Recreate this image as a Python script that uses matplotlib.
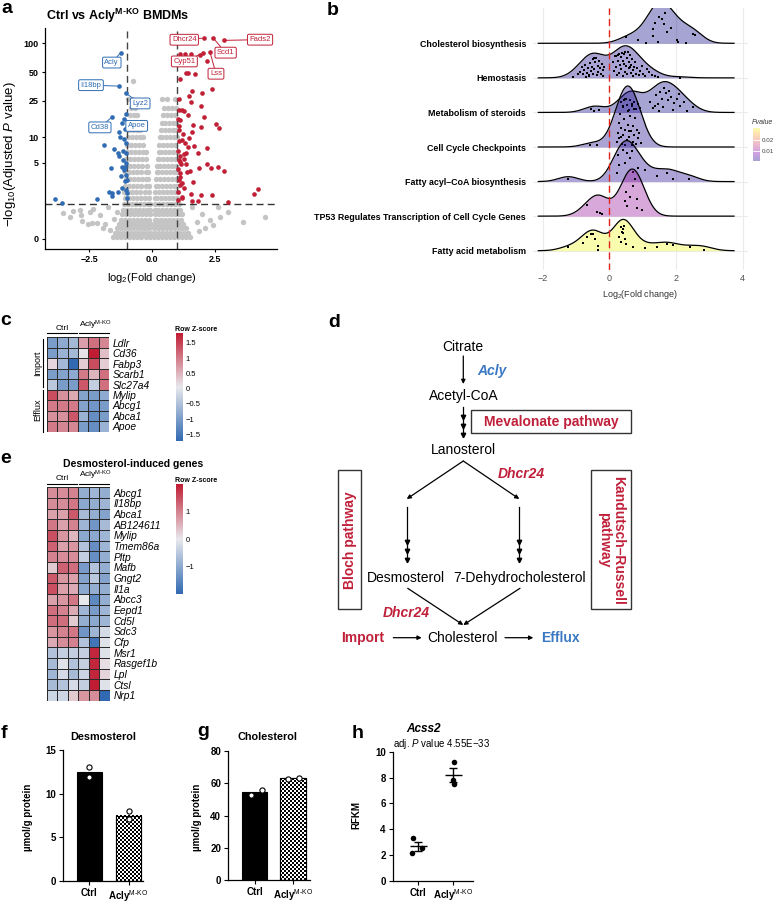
import numpy as np
import matplotlib
matplotlib.use('Agg')
import matplotlib.pyplot as plt
from matplotlib.colors import LinearSegmentedColormap, Normalize
from matplotlib.patches import Rectangle

plt.rcParams['font.family'] = ['Liberation Sans', 'DejaVu Sans']
plt.rcParams['mathtext.fontset'] = 'custom'
plt.rcParams['mathtext.rm'] = 'Liberation Sans'
plt.rcParams['mathtext.it'] = 'Liberation Sans:italic'
plt.rcParams['mathtext.bf'] = 'Liberation Sans:bold'

# ---------------- data: volcano (a) ----------------
blue_fc = [-1.24, -1.30, -1.03, -1.58, -1.10, -1.03, -1.20, -1.30, -1.27, -1.89, -1.51, -1.34,
           -1.30, -1.14, -1.64, -1.20, -1.10, -1.04, -1.24, -1.07, -1.20, -1.69, -1.60, -1.58,
           -1.36, -1.00, -2.19, -3.85, -3.58, -1.02, -1.05, -1.03, -1.08, -1.01, -1.04, -1.06,
           -1.12, -1.00, -1.15]
blue_p = [80, 35.7, 29.9, 16.8, 16.0, 18, 14.5, 11.5, 10.1, 8.1, 7.4, 6.6,
          6.05, 7.0, 4.3, 4.5, 4.1, 3.5, 3.4, 2.9, 2.3, 2.05, 1.93, 1.75,
          2.05, 1.93, 1.54, 1.56, 1.31, 5.0, 6.5, 8.5, 4.5, 3.0, 2.2, 12.5,
          9.5, 1.6, 5.5]
red_fc = [2.06, 2.43, 2.87, 2.01, 2.30, 1.11, 1.31, 1.53, 1.90, 2.19, 1.35, 1.44, 1.72, 1.11,
          2.37, 1.60, 1.47, 1.97, 1.07, 1.94, 1.54, 1.18, 1.27, 1.44, 2.06, 1.11, 2.54, 2.67,
          1.93, 1.61, 1.08, 1.57, 1.48, 1.18, 2.17, 1.68, 1.44, 1.84, 1.28, 1.11, 1.34, 2.19,
          2.63, 2.33, 1.88, 2.86, 1.51, 1.11, 1.64, 1.11, 1.27, 2.37, 1.93, 1.54, 1.18, 1.84,
          1.57, 3.00, 4.05, 4.22, 1.03, 1.05, 1.02, 1.06, 1.04, 1.08, 1.05, 1.03, 1.06, 1.02,
          1.10, 1.15, 1.12, 1.20, 1.25, 1.30, 1.22, 1.35, 1.40, 1.18]
red_p = [113, 113, 107, 79, 81, 77, 77, 78, 75, 65, 49.6, 49, 48, 42,
         33, 32, 28.2, 30, 26, 21.9, 24.3, 19.9, 19.5, 17.5, 16.8, 15.5, 14, 12.8,
         13.1, 13.6, 13.5, 11.5, 9.7, 9.3, 7.6, 8.0, 7.7, 6.5, 6.4, 5.2, 4.9, 4.9,
         4.5, 4.3, 4.3, 3.96, 4.0, 3.7, 2.86, 2.57, 2.3, 1.82, 1.82, 1.9, 1.6, 1.45,
         1.42, 1.41, 1.87, 2.24, 2.0, 3.0, 4.2, 5.5, 7.0, 9.0, 12, 16, 20, 1.5,
         6.0, 4.8, 3.3, 2.7, 5.6, 8.6, 11, 6.6, 3.9, 1.7]
gray_rows = [
    (0.05, [-1.55, -1.38, -1.22, -1.06, -0.90, -0.74, -0.58, -0.42, -0.26, -0.10, 0.06, 0.22, 0.38, 0.54, 0.70, 0.86, 1.02, 1.18, 1.34, 1.50]),
    (0.15, [-1.47, -1.31, -1.15, -0.99, -0.83, -0.67, -0.51, -0.35, -0.19, -0.03, 0.13, 0.29, 0.45, 0.61, 0.77, 0.93, 1.09, 1.25, 1.41]),
    (0.28, [-1.39, -1.23, -1.07, -0.91, -0.75, -0.59, -0.43, -0.27, -0.11, 0.08, 0.24, 0.40, 0.56, 0.72, 0.88, 1.04, 1.20, 1.36]),
    (0.42, [-1.31, -1.15, -0.99, -0.83, -0.67, -0.51, -0.35, -0.19, -0.06, 0.12, 0.28, 0.44, 0.60, 0.76, 0.92, 1.08, 1.24]),
    (0.58, [-1.25, -1.09, -0.93, -0.77, -0.61, -0.45, -0.29, -0.13, 0.10, 0.20, 0.36, 0.52, 0.68, 0.84, 1.00, 1.16]),
    (0.78, [-1.20, -1.04, -0.88, -0.72, -0.56, -0.40, -0.24, -0.10, 0.12, 0.27, 0.43, 0.59, 0.75, 0.91, 1.07, 1.20]),
    (1.0, [-1.16, -1.00, -0.84, -0.68, -0.52, -0.36, -0.20, -0.08, 0.10, 0.22, 0.38, 0.54, 0.70, 0.86, 1.02, 1.12]),
    (1.3, [-1.12, -0.96, -0.80, -0.64, -0.48, -0.32, -0.16, -0.08, 0.12, 0.28, 0.44, 0.60, 0.76, 0.92, 1.06]),
    (1.65, [-1.08, -0.92, -0.76, -0.60, -0.44, -0.28, -0.12, 0.10, 0.20, 0.36, 0.52, 0.68, 0.84, 1.00]),
    (2.05, [-1.10, -0.94, -0.78, -0.62, -0.46, -0.30, -0.14, 0.13, 0.28, 0.44, 0.60, 0.76, 0.92, 1.04]),
    (2.5, [-1.06, -0.90, -0.74, -0.58, -0.42, -0.26, -0.14, 0.15, 0.22, 0.38, 0.54, 0.70, 0.86, 1.00]),
    (3.1, [-1.04, -0.88, -0.72, -0.56, -0.40, -0.24, -0.15, 0.17, 0.30, 0.46, 0.62, 0.78, 0.94]),
    (3.8, [-1.06, -0.90, -0.74, -0.58, -0.42, -0.26, -0.16, 0.18, 0.24, 0.40, 0.56, 0.72, 0.88, 1.00]),
    (4.6, [-1.02, -0.86, -0.70, -0.54, -0.38, -0.22, 0.20, 0.32, 0.48, 0.64, 0.80, 0.96]),
    (5.6, [-1.04, -0.88, -0.72, -0.56, -0.40, -0.24, 0.22, 0.26, 0.42, 0.58, 0.74, 0.90, 1.00]),
    (6.8, [-1.00, -0.84, -0.68, -0.52, -0.36, -0.24, 0.26, 0.36, 0.52, 0.68, 0.84, 0.98]),
    (8.2, [-0.98, -0.82, -0.66, -0.50, -0.34, 0.28, 0.44, 0.60, 0.76, 0.92]),
    (10, [-0.96, -0.80, -0.64, -0.48, -0.36, 0.32, 0.40, 0.56, 0.72, 0.88, 0.98]),
    (12, [-0.92, -0.76, -0.60, -0.46, 0.36, 0.50, 0.66, 0.82, 0.96]),
    (14.5, [-0.94, -0.80, -0.66, -0.52, 0.40, 0.52, 0.68, 0.84, 0.96]),
    (17.5, [-0.88, -0.72, -0.60, 0.44, 0.60, 0.76, 0.92]),
    (21, [-0.84, -0.68, 0.48, 0.64, 0.80, 0.94]),
    (26, [-0.95, -0.80, 0.40, 0.60, 0.92]),
    (40, [-0.74]),
]
gray_out_fc = [-3.52, -3.25, -3.12, -2.86, -2.83, -2.46, -2.35, -2.79, -2.53, -2.39, -2.19, -1.87,
               -1.67, -1.34, -1.40, -2.05, -1.75, -1.95, -1.50, 2.63, 3.03, 2.70, 2.30, 2.43,
               1.97, 1.77, 4.48, 1.60, 2.10, 1.85, 3.60]
gray_out_p = [0.83, 0.67, 0.93, 0.98, 0.76, 0.90, 1.01, 0.54, 0.42, 0.44, 0.45, 0.42,
              0.24, 0.14, 0.90, 0.75, 1.10, 0.30, 0.60, 1.14, 0.90, 0.69, 0.56, 0.39,
              0.80, 0.50, 0.69, 1.10, 0.30, 0.20, 0.50]
lab_gene = ['Acly', 'Il18bp', 'Lyz2', 'Cd38', 'Apoe', 'Dhcr24', 'Cyp51', 'Scd1', 'Lss', 'Fads2']
lab_fc = [-1.24, -1.30, -1.03, -1.58, -1.10, 2.06, 2.01, 2.43, 2.30, 2.87]
lab_p = [80, 35.7, 29.9, 16.8, 16.0, 113, 79, 113, 81, 107]
lab_off = [(-6.5, -7.2), (-20.4, 0.7), (10.1, -7.2), (-8.9, -7.6), (8.9, -5.1),
           (-14.2, -1.2), (-13.2, -6.0), (8.9, -10.5), (4.3, -15.6), (25.7, 0.5)]

# ---------------- data: ridgeline (b) ----------------
ridge_names = ['Cholesterol biosynthesis', 'Hemostasis', 'Metabolism of steroids',
               'Cell Cycle Checkpoints', 'Fatty acyl\u2013CoA biosynthesis',
               'TP53 Regulates Transcription of Cell Cycle Genes', 'Fatty acid metabolism']
ridge_p = [0.00002, 0.0003, 0.0001, 0.0006, 0.0012, 0.0105, 0.032]
ridge_fc = [
    [0.50, 0.85, 1.10, 1.32, 1.37, 1.50, 1.57, 1.67, 1.72, 1.84, 1.47, 2.02, 2.05, 2.30, 2.52, 2.58, 1.32, 1.63],
    [-1.08, -0.95, -0.88, -0.82, -0.80, -0.75, -0.72, -0.68, -0.65, -0.62, -0.58, -0.55, -0.52, -0.50, -0.48,
     -0.45, -0.43, -0.40, -0.38, -0.35, -0.33, -0.30, -0.28, -0.25, -0.22, -0.20, -0.18, -0.15, -0.45, -0.60, -0.70,
     0.12, 0.15, 0.18, 0.20, 0.22, 0.25, 0.27, 0.30, 0.32, 0.34, 0.36, 0.38, 0.40, 0.42, 0.44, 0.46, 0.48, 0.50,
     0.52, 0.54, 0.56, 0.58, 0.60, 0.62, 0.64, 0.66, 0.68, 0.70, 0.72, 0.75, 0.78, 0.80, 0.84, 0.88, 0.92, 0.98,
     1.02, 1.08, 1.12, 1.20, 1.28, 1.38, 1.45, 2.12, 0.20, 0.30, 0.45, 0.62],
    [-0.55, -0.45, -0.30, 0.35, 0.42, 0.48, 0.53, 0.58, 0.62, 0.68, 0.74, 0.80, 0.86, 0.93,
     1.22, 1.30, 1.36, 1.40, 1.45, 1.50, 1.52, 1.57, 1.62, 1.65, 1.70, 1.75, 1.80, 1.84, 1.90, 1.95,
     2.02, 2.08, 2.12, 2.25, 2.32, 2.50],
    [-0.58, -0.38, 0.22, 0.25, 0.28, 0.30, 0.33, 0.35, 0.38, 0.40, 0.42, 0.45, 0.47, 0.50, 0.52, 0.55,
     0.57, 0.60, 0.62, 0.64, 0.67, 0.70, 0.72, 0.75, 0.78, 0.80, 0.83, 0.86, 0.90, 0.95, 0.48, 0.36,
     0.58, 0.68, 0.44, 0.73],
    [-1.23, 0.27, 0.30, 0.47, 0.54, 0.62, 0.72, 0.85, 1.07, 1.42, 1.72, 1.92, 2.40, 0.42, 0.22, 0.67],
    [-0.68, -0.38, -0.28, -0.23, 0.47, 0.52, 0.72, 0.77, 0.82, 0.84, 0.97, 0.62, 0.50],
    [-1.23, -0.78, -0.68, -0.55, -0.50, -0.42, -0.35, -0.33, 0.30, 0.34, 0.37, 0.40, 0.42, 0.45, 0.47,
     0.50, 0.35, 0.72, 1.07, 1.44, 1.72, 1.92, 2.42, 2.84],
]
ridge_jit = [
    [0.29, 0.10, 0.02, 0.40, 0.60, 0.75, 0.69, 0.89, 0.34, 0.45, 0.04, 0.10, 0.04, 0.02, 0.26, 0.23, 0.21, 0.55],
    [0.02, 0.12, 0.16, 0.30, 0.10, 0.22, 0.38, 0.15, 0.28, 0.05, 0.42, 0.20, 0.32, 0.55, 0.12,
     0.25, 0.45, 0.60, 0.08, 0.35, 0.18, 0.50, 0.28, 0.10, 0.40, 0.22, 0.05, 0.32, 0.70, 0.08, 0.02,
     0.45, 0.20, 0.62, 0.30, 0.08, 0.50, 0.72, 0.15, 0.38, 0.60, 0.25, 0.85, 0.05, 0.48, 0.70, 0.18, 0.95, 0.35,
     0.58, 0.10, 0.80, 0.28, 0.45, 0.65, 0.15, 0.38, 0.55, 0.22, 0.05, 0.30, 0.45, 0.12, 0.28, 0.08, 0.20, 0.35,
     0.12, 0.05, 0.25, 0.18, 0.08, 0.05, 0.02, 0.01, 0.75, 0.90, 0.40, 0.30],
    [0.10, 0.05, 0.08, 0.30, 0.15, 0.40, 0.22, 0.08, 0.35, 0.20, 0.30, 0.10, 0.25, 0.12,
     0.30, 0.12, 0.20, 0.50, 0.25, 0.05, 0.60, 0.40, 0.15, 0.72, 0.55, 0.35, 0.62, 0.45, 0.08, 0.28,
     0.40, 0.52, 0.20, 0.30, 0.05, 0.15],
    [0.07, 0.05, 0.15, 0.40, 0.70, 0.25, 0.95, 0.55, 0.10, 1.20, 0.35, 0.80, 0.50, 1.40, 0.20, 0.65,
     1.05, 0.30, 0.90, 0.45, 1.25, 0.15, 0.60, 0.35, 0.85, 0.08, 0.50, 0.25, 0.40, 0.12, 0.05, 0.30,
     0.45, 0.05, 1.50, 1.10],
    [0.06, 0.78, 0.49, 0.54, 0.83, 0.68, 0.27, 0.40, 0.33, 0.15, 0.25, 0.08, 0.08, 1.02, 0.25, 0.97],
    [0.39, 0.12, 0.10, 0.05, 0.43, 0.29, 0.87, 1.06, 0.50, 0.24, 0.19, 0.56, 0.69],
    [0.12, 0.21, 0.39, 0.50, 0.60, 0.33, 0.15, 0.02, 0.40, 0.70, 0.55, 0.50, 0.62, 0.80, 0.33,
     0.20, 0.26, 0.12, 0.07, 0.12, 0.18, 0.16, 0.10, 0.02],
]

# ---------------- data: heatmaps (c, e) ----------------
c_genes = ['Ldlr', 'Cd36', 'Fabp3', 'Scarb1', 'Slc27a4', 'Mylip', 'Abcg1', 'Abca1', 'Apoe']
c_z = [[-1.0, -0.8, -0.6, 0.7, 1.1, 0.9],
       [-1.0, -0.7, -0.6, 0.1, 1.82, 0.4],
       [0.2, -0.6, -1.71, 0.3, 1.4, 0.3],
       [-1.0, -0.9, -0.8, 1.0, 0.5, 1.1],
       [-0.4, -1.0, -1.0, 1.3, -0.3, 1.1],
       [1.4, 0.8, 0.6, -0.9, -1.0, -0.8],
       [1.0, 1.0, 1.0, -0.9, -1.1, -1.0],
       [0.8, 0.8, 1.3, -0.7, -1.2, -1.0],
       [1.0, 0.9, 0.9, -1.0, -1.2, -0.7]]
e_genes = ['Abcg1', 'Il18bp', 'Abca1', 'AB124611', 'Mylip', 'Tmem86a', 'Pltp', 'Mafb', 'Gngt2', 'Il1a',
           'Abcc3', 'Eepd1', 'Cd5l', 'Sdc3', 'Cfp', 'Msr1', 'Rasgef1b', 'Lpl', 'Ctsl', 'Nrp1']
e_z = [[0.9, 0.9, 1.0, -0.9, -0.8, -0.9],
       [0.9, 0.9, 1.1, -1.0, -0.9, -0.8],
       [0.7, 0.7, 1.4, -0.7, -0.9, -1.1],
       [1.1, 0.7, 1.0, -0.8, -1.3, -0.7],
       [1.5, 0.8, 0.5, -1.0, -1.0, -0.8],
       [1.3, 0.7, 0.8, -0.6, -1.4, -0.8],
       [1.0, 0.9, 0.9, -0.4, -1.4, -0.9],
       [0.3, 1.3, 1.2, -1.2, -0.6, -0.9],
       [1.4, 0.8, 0.7, -1.1, -0.5, -1.1],
       [1.5, 0.7, 0.6, -1.0, -0.9, -0.9],
       [0.7, 0.8, 1.1, 0.0, -1.5, -0.9],
       [1.2, 1.0, 0.6, -0.8, -1.2, -0.8],
       [1.2, 1.2, 0.3, -0.9, -1.0, -0.8],
       [0.8, 1.0, 1.1, -1.3, -0.8, -0.2],
       [0.6, 0.9, 1.0, -0.6, -1.8, -0.1],
       [-0.6, -0.4, -0.4, -0.4, 1.9, -0.1],
       [-0.7, -0.1, -0.6, -0.4, 1.9, 0.1],
       [-0.8, -0.2, -0.7, -0.3, 1.9, 0.2],
       [-0.7, -0.6, -0.2, -0.4, 2.0, -0.1],
       [-0.3, -0.3, 0.3, 0.8, 0.9, -1.99]]

# ---------------- data: f, g, h ----------------
HY = '\u2010'
groups = ['Ctrl', 'Acly$^{\\mathrm{M' + HY + 'KO}}$']
desmo_pts = [[13.0, 11.9], [8.0, 7.1]]
desmo_bar = [12.5, 7.5]
chol_pts = [[53.0, 56.0], [62.5, 63.5]]
chol_bar = [54.5, 63.0]
acss2_pts = [[3.29, 2.17, 2.51], [9.22, 7.80, 7.50]]
# horizontal placement of the dots within each group
desmo_jx = [[0.0, 0.0], [0.0, 0.0]]
chol_jx = [[-0.10, 0.19], [-0.13, 0.16]]
acss2_jx = [[-0.14, -0.17, 0.11], [0.03, 0.0, 0.03]]

W, H = 778, 905
fig = plt.figure(figsize=(W / 100, H / 100), dpi=100)


def box(l, t, r, b):
    return [l / W, 1 - b / H, (r - l) / W, (b - t) / H]


ov = fig.add_axes([0, 0, 1, 1])
ov.set_xlim(0, W)
ov.set_ylim(H, 0)
ov.axis('off')
ov.set_zorder(20)

# panel letters
for s, x, y in [('a', 1, 13), ('b', 327, 15), ('c', 0, 325), ('d', 328, 327), ('e', 0, 463),
                ('f', 1, 738), ('g', 197, 736), ('h', 352, 738)]:
    ov.text(x, y, s, fontsize=14, fontweight='bold', va='baseline')

# ================= a: volcano =================
def tr(v):
    return np.log10(np.asarray(v, dtype=float) + 1)


gray_fc = np.concatenate([r[1] for r in gray_rows] + [gray_out_fc])
gray_p = np.concatenate([[r[0]] * len(r[1]) for r in gray_rows] + [gray_out_p])

axa = fig.add_axes(box(45, 28, 277, 249))
axa.scatter(gray_fc, tr(gray_p), s=15, c='#c4c4c4', lw=0, zorder=1)
axa.scatter(blue_fc, tr(blue_p), s=11, c='#2f6cb3', lw=0, zorder=3)
axa.scatter(red_fc, tr(red_p), s=11, c='#c01f36', lw=0, zorder=3)
thr = -np.log10(0.05)
for xv in (-1, 1):
    axa.axvline(xv, color='#444444', lw=1.0, ls=(0, (5, 3)), zorder=2)
axa.axhline(tr(thr), color='#333333', lw=1.0, ls=(0, (5, 3)), zorder=2)
for g, fc, p, off in zip(lab_gene, lab_fc, lab_p, lab_off):
    col = '#2f6cb3' if fc < 0 else '#c01f36'
    axa.annotate(g, xy=(fc, tr(p)), xytext=off, textcoords='offset points', fontsize=5.5,
                 color=col, ha='center', va='center', zorder=5,
                 bbox=dict(boxstyle='round,pad=0.25,rounding_size=0.2', fc='white', ec=col, lw=0.7),
                 arrowprops=dict(arrowstyle='-', color=col, lw=0.7, shrinkA=0, shrinkB=1.5))
axa.set_xlim(-4.25, 4.96)
axa.set_ylim(-0.103, 2.16)
axa.set_xticks([-2.5, 0, 2.5])
axa.set_xticklabels(['\u22122.5', '0.0', '2.5'])
yt = [0, 5, 10, 25, 50, 100]
axa.set_yticks(tr(yt))
axa.set_yticklabels([str(v) for v in yt])
for lab in axa.get_xticklabels() + axa.get_yticklabels():
    lab.set_fontweight('bold')
axa.tick_params(labelsize=6.5, length=2.5, width=0.8, pad=2)
for s in ('top', 'right'):
    axa.spines[s].set_visible(False)
for s in ('left', 'bottom'):
    axa.spines[s].set_linewidth(0.9)
ov.text(118, 16, 'Ctrl vs Acly$^{\\mathbf{M' + HY + 'KO}}$ BMDMs', fontsize=9, fontweight='bold',
        ha='center', va='center')
ov.text(152, 278, r'log$_2$(Fold change)', fontsize=8, ha='center', va='center')
ov.text(10, 154, r'$-$log$_{10}$(Adjusted $P$ value)', fontsize=9.5, ha='center', va='center', rotation=90)

# ================= b: ridgeline =================
axb = fig.add_axes(box(533, 8, 748, 270))
bw = 0.3
allx = np.concatenate([np.asarray(x) for x in ridge_fc])
grid = np.linspace(allx.min() - 3 * bw, allx.max() + 3 * bw, 500)
dens = []
for x in ridge_fc:
    x = np.asarray(x)
    d = np.exp(-0.5 * ((grid[:, None] - x[None, :]) / bw) ** 2).sum(1) / (len(x) * bw * np.sqrt(2 * np.pi))
    dens.append(d)
hscale = 1.765 / max(d.max() for d in dens)
pcm = plt.get_cmap('plasma')
pn = Normalize(min(ridge_p), max(ridge_p))
n = len(ridge_names)
for i in range(n):
    base = n - i
    h = dens[i] * hscale
    z = 2 + i
    axb.fill_between(grid, base, base + h, color=pcm(pn(ridge_p[i])), alpha=0.37, lw=0, zorder=z)
    axb.plot(grid, base + h, color='black', lw=0.9, zorder=z)
    xs = np.asarray(ridge_fc[i])
    loc = np.interp(xs, grid, h)
    ys = base + np.minimum(np.asarray(ridge_jit[i]), 0.8 * loc)
    axb.scatter(xs, ys, s=3.5, c='black', marker='s', lw=0, zorder=z)
axb.axvline(0, color='#e3241b', lw=1.0, ls=(0, (5, 3)), zorder=30)
axb.set_xlim(-2.29, 4.16)
axb.set_ylim(0.442, 8.021)
axb.set_yticks(range(n, 0, -1))
axb.set_yticklabels(ridge_names, fontsize=6.4, fontweight='bold')
axb.set_xticks([-2, 0, 2, 4])
axb.set_xticklabels(['\u22122', '0', '2', '4'])
axb.tick_params(length=0, pad=5)
axb.tick_params(axis='x', labelsize=6.5, labelcolor='#4d4d4d', pad=3)
axb.grid(True, color='#ebebeb', lw=0.8, zorder=0)
axb.set_axisbelow(True)
for s in axb.spines.values():
    s.set_visible(False)
ov.text(640, 294, r'Log$_2$(Fold change)', fontsize=6.5, color='#333333', ha='center', va='center')

cb = fig.add_axes(box(753, 128, 760, 161))
cb.imshow(np.linspace(0, 1, 100)[:, None], aspect='auto', cmap='plasma', alpha=0.37,
          origin='lower', extent=[0, 1, min(ridge_p), max(ridge_p)])
cb.set_xticks([])
cb.yaxis.tick_right()
cb.set_yticks([0.01, 0.02])
cb.set_yticklabels(['0.01', '0.02'])
cb.tick_params(axis='y', labelsize=4.5, length=0, pad=1.5, labelcolor='#444444')
for v in (0.01, 0.02):
    cb.axhline(v, color='white', lw=0.6)
for s in cb.spines.values():
    s.set_visible(False)
ov.text(752, 123, 'Pvalue', fontsize=5, style='italic', color='#333333', va='center')

# ================= c, e: heatmaps =================
hcm = LinearSegmentedColormap.from_list('rb', ['#3169b2', '#e8e8ec', '#c01c33'])


def heat(rect, Z, genes, cbrect, ticks):
    ax = fig.add_axes(rect)
    Z = np.asarray(Z)
    vmin, vmax = Z.min(), Z.max()
    im = ax.pcolormesh(Z, cmap=hcm, vmin=vmin, vmax=vmax, edgecolors='#2a2a2a', linewidth=0.5)
    ax.set_xlim(0, Z.shape[1])
    ax.set_ylim(Z.shape[0], 0)
    ax.set_xticks([])
    ax.yaxis.tick_right()
    ax.set_yticks(np.arange(Z.shape[0]) + 0.5)
    ax.set_yticklabels(genes, fontsize=7.4, style='italic')
    ax.tick_params(length=0, pad=2.5)
    for s in ax.spines.values():
        s.set_visible(False)
    cax = fig.add_axes(cbrect)
    c = fig.colorbar(im, cax=cax, ticks=ticks)
    c.outline.set_visible(False)
    c.ax.tick_params(labelsize=5.5, length=0, pad=2)
    c.ax.set_yticklabels([('%g' % t).replace('-', '\u2212') for t in ticks])
    return ax


heat(box(46.7, 337.3, 109.3, 431.7), c_z, c_genes, box(175.7, 333, 182.7, 441),
     [-1.5, -1, -0.5, 0, 0.5, 1, 1.5])
heat(box(46.7, 487.3, 110, 700.7), e_z, e_genes, box(175.7, 484.3, 182.7, 594), [-1, 0, 1])
ov.text(175, 329, 'Row Z-score', fontsize=5, fontweight='bold', va='center')
ov.text(175, 480.5, 'Row Z-score', fontsize=5, fontweight='bold', va='center')
ov.text(133, 464, 'Desmosterol-induced genes', fontsize=7.6, fontweight='bold', ha='center', va='center')
for ytxt, yline in [(331.5, 333.3), (481.5, 483.6)]:
    ov.text(62.5, ytxt, groups[0], fontsize=6, ha='center', va='bottom')
    ov.text(95, ytxt, groups[1], fontsize=6, ha='center', va='bottom')
    ov.plot([47.5, 77.5], [yline, yline], color='black', lw=0.8)
    ov.plot([79.5, 109], [yline, yline], color='black', lw=0.8)
ov.plot([43.3, 43.3], [339, 387], color='black', lw=0.8)
ov.plot([43.3, 43.3], [390, 432], color='black', lw=0.8)
ov.text(37.5, 363, 'Import', fontsize=6.5, rotation=90, ha='center', va='center')
ov.text(37.5, 410, 'Efflux', fontsize=6.5, rotation=90, ha='center', va='center')

# ================= d: pathway =================
red_t, blue_t = '#c0203a', '#3a78c2'


def arrow(x1, y1, x2, y2):
    ov.annotate('', xy=(x2, y2), xytext=(x1, y1),
                arrowprops=dict(arrowstyle='-|>', lw=0.9, color='black', mutation_scale=6,
                                shrinkA=0, shrinkB=0))


def triple(x, y1, y2):
    ov.plot([x, x], [y1, y2 - 2], color='black', lw=0.9)
    ov.plot([x, x, x], [y2 - 20, y2 - 11, y2 - 2], ls='none', marker='v', ms=3.2, color='black')


fs = 10
ov.text(463.3, 346.7, 'Citrate', fontsize=fs, ha='center', va='center')
arrow(463.3, 356, 463.3, 384)
ov.text(477, 370.7, 'Acly', fontsize=fs, color=blue_t, fontweight='bold', style='italic', va='center')
ov.text(463.3, 395.7, 'Acetyl-CoA', fontsize=fs, ha='center', va='center')
triple(463.3, 406.7, 437.3)
ov.add_patch(Rectangle((470.7, 410), 160.3, 23.3, fill=False, ec='#333333', lw=1))
ov.text(551, 422, 'Mevalonate pathway', fontsize=fs, color=red_t, fontweight='bold', ha='center', va='center')
ov.text(463.3, 450, 'Lanosterol', fontsize=fs, ha='center', va='center')
arrow(463.3, 461, 406.7, 499)
arrow(463.3, 461, 519.3, 499)
ov.text(521, 474, 'Dhcr24', fontsize=fs, color=red_t, fontweight='bold', style='italic', ha='center', va='center')
ov.add_patch(Rectangle((338.3, 470), 22.7, 139.3, fill=False, ec='#333333', lw=1))
ov.text(349.7, 540, 'Bloch pathway', fontsize=fs, color=red_t, fontweight='bold', rotation=90,
        ha='center', va='center')
ov.add_patch(Rectangle((591, 470), 40, 139.3, fill=False, ec='#333333', lw=1))
ov.text(611, 540, 'Kandutsch\u2013Russell\npathway', fontsize=fs, color=red_t, fontweight='bold',
        rotation=-90, ha='center', va='center', multialignment='center', linespacing=1.0)
triple(406.7, 506.7, 561.7)
triple(519.3, 506.7, 561.7)
ov.text(405.7, 577.7, 'Desmosterol', fontsize=fs, ha='center', va='center')
ov.text(519.3, 577.7, '7-Dehydrocholesterol', fontsize=fs, ha='center', va='center')
arrow(407.7, 588.3, 463.3, 625)
arrow(520, 588.3, 463.3, 625)
ov.text(406.7, 613.3, 'Dhcr24', fontsize=fs, color=red_t, fontweight='bold', style='italic', ha='center', va='center')
ov.text(362.7, 637.7, 'Import', fontsize=fs, color=red_t, fontweight='bold', ha='center', va='center')
arrow(393.3, 637.7, 421.7, 637.7)
ov.text(462.7, 637.7, 'Cholesterol', fontsize=fs, ha='center', va='center')
arrow(505, 637.7, 533.3, 637.7)
ov.text(560, 637.7, 'Efflux', fontsize=fs, color=blue_t, fontweight='bold', ha='center', va='center')


# ================= f, g, h =================
def style_small(ax):
    for s in ('top', 'right'):
        ax.spines[s].set_visible(False)
    for s in ('left', 'bottom'):
        ax.spines[s].set_linewidth(0.9)
    ax.set_xticks([0, 1])
    ax.set_xticklabels(groups)
    ax.tick_params(labelsize=7, length=3, width=0.8, pad=2)
    for lab in ax.get_xticklabels() + ax.get_yticklabels():
        lab.set_fontweight('bold')


def barpanel(rect, bars, pts, jx, xl, ylim, yticks):
    ax = fig.add_axes(rect)
    ax.set_xlim(*xl)
    ax.set_ylim(*ylim)
    wid = 0.66
    ax.bar([0], [bars[0]], width=wid, color='black', edgecolor='black', lw=0.8, zorder=2)
    kb = ax.bar([1], [bars[1]], width=wid, color='white', edgecolor='black', lw=0.8, zorder=2)[0]
    # checkerboard texture for the knockout bar (2 px squares)
    x0, x1 = 1 - wid / 2, 1 + wid / 2
    (px0, py0), (px1, py1) = ax.transData.transform([[x0, 0], [x1, bars[1]]])
    nx, ny = max(1, int(round((px1 - px0) / 2))), max(1, int(round((py1 - py0) / 2)))
    chk = np.add.outer(np.arange(ny), np.arange(nx)) % 2
    ax.imshow(chk, cmap='gray', extent=[x0, x1, 0, bars[1]], aspect='auto', interpolation='nearest',
              zorder=2.5, clip_path=kb, clip_on=True)
    ax.bar([1], [bars[1]], width=wid, fill=False, edgecolor='black', lw=0.8, zorder=2.6)
    for i, pp in enumerate(pts):
        ax.scatter(np.array(jx[i]) + i, pp, s=14, facecolor='white', edgecolor='black', lw=0.8, zorder=3)
    ax.set_xlim(*xl)
    ax.set_ylim(*ylim)
    ax.set_yticks(yticks)
    style_small(ax)
    return ax


axf = barpanel(box(63.3, 750, 143, 881), desmo_bar, desmo_pts, desmo_jx, (-0.67, 1.37), (0, 15), [0, 5, 10, 15])
axg = barpanel(box(228, 751, 310, 880), chol_bar, chol_pts, chol_jx, (-0.69, 1.44), (0, 80), [0, 20, 40, 60, 80])
ov.text(103.3, 736.7, 'Desmosterol', fontsize=7.8, fontweight='bold', ha='center', va='center')
ov.text(268, 736.7, 'Cholesterol', fontsize=7.8, fontweight='bold', ha='center', va='center')
ov.text(28.3, 817, '\u00b5mol/g protein', fontsize=7, fontweight='bold', rotation=90, ha='center', va='center')
ov.text(196.7, 817, '\u00b5mol/g protein', fontsize=7, fontweight='bold', rotation=90, ha='center', va='center')

axh = fig.add_axes(box(392.7, 751.7, 473, 880.7))
for i, pp in enumerate(acss2_pts):
    pp = np.asarray(pp)
    axh.scatter(np.array(acss2_jx[i]) + i, pp, s=16, c='black', lw=0, zorder=3)
    m = pp.mean()
    se = pp.std(ddof=1) / np.sqrt(len(pp))
    axh.hlines(m, i - 0.24, i + 0.24, color='black', lw=1.0)
    axh.errorbar([i], [m], yerr=[se], color='black', lw=1.0, capsize=3, capthick=1.0)
axh.set_xlim(-0.73, 1.56)
axh.set_ylim(0, 10)
axh.set_yticks([0, 2, 4, 6, 8, 10])
style_small(axh)
ov.text(423.3, 729.3, 'Acss2', fontsize=8.5, fontweight='bold', style='italic', ha='center', va='center')
ov.text(441.7, 744, r'adj. $P$ value 4.55E$-$33', fontsize=7, ha='center', va='center')
ov.text(356.7, 815, 'RFKM', fontsize=7, fontweight='bold', rotation=90, ha='center', va='center')

fig.savefig('out.png', dpi=100)
